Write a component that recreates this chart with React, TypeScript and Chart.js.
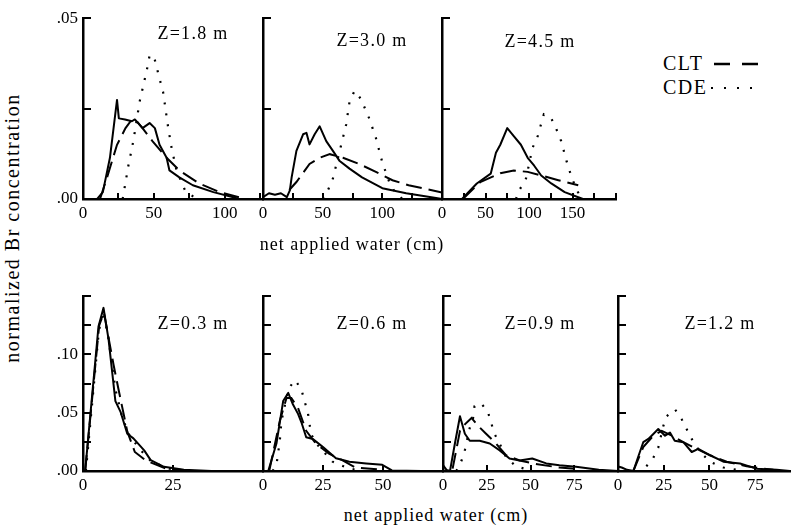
import React, { useEffect, useRef } from 'react';
import { Chart, registerables } from 'chart.js';

Chart.register(...registerables);

type Pt = [number, number];

// ---------- data (x: net applied water, cm ; y: normalized Br concentration) ----------
// Z = 1.8 m
const Z18_OBS: Pt[] = [[0, 0], [10, 0], [14, 0.0019], [19, 0.0114], [24, 0.0274], [25.3, 0.0223], [29.6, 0.022], [34.5, 0.0215], [36.6, 0.022], [42, 0.0196], [47, 0.021], [50.7, 0.0196], [54, 0.015], [59, 0.0114], [61, 0.0079], [68, 0.006], [77.5, 0.0038], [92, 0.0019], [106, 0.0005], [110, 0], [127, 0]];
const Z18_CLT: Pt[] = [[12, 0], [17, 0.006], [24, 0.015], [30, 0.0196], [34.5, 0.022], [38, 0.0215], [42, 0.0196], [49, 0.016], [59, 0.0114], [68, 0.0079], [82, 0.0043], [96.5, 0.0019], [110, 0.0005]];
const Z18_CDE: Pt[] = [[28, 0], [32, 0.0092], [35.5, 0.016], [40, 0.027], [45, 0.0356], [47, 0.0397], [50, 0.0395], [54, 0.0333], [56.5, 0.0296], [60, 0.02], [62.5, 0.0141], [66, 0.0079], [72, 0.0024], [79, 0.0003]];
// Z = 3.0 m
const Z30_OBS: Pt[] = [[0, 0.0005], [5, 0.0016], [10, 0.0012], [15, 0.0016], [20, 0.0005], [22.5, 0.0024], [24, 0.006], [28, 0.0133], [33.6, 0.0179], [36.4, 0.0183], [39, 0.0151], [43.3, 0.0179], [47.5, 0.0201], [53, 0.016], [58.6, 0.0133], [64, 0.0106], [72.5, 0.0084], [83, 0.006], [100, 0.003], [120, 0.0016], [145, 0.0003], [150, 0]];
const Z30_CLT: Pt[] = [[22, 0.0025], [28, 0.0047], [39, 0.0097], [47.5, 0.0114], [56, 0.0124], [67, 0.0114], [80.6, 0.0097], [94.6, 0.0075], [108.5, 0.0052], [122, 0.0038], [150, 0.0018]];
const Z30_CDE: Pt[] = [[50, 0], [54.4, 0.0024], [58.6, 0.0057], [65.6, 0.0151], [69.7, 0.0206], [72.5, 0.0269], [76.7, 0.0299], [82, 0.0277], [89, 0.0223], [94.6, 0.0169], [100, 0.0101], [105.8, 0.0047], [111, 0.0016], [117, 0]];
// Z = 4.5 m
const Z45_OBS: Pt[] = [[23, 0], [40, 0.0043], [56, 0.007], [62, 0.0128], [67, 0.015], [75, 0.0196], [82.5, 0.0174], [90.7, 0.015], [98.5, 0.0114], [106, 0.0092], [114, 0.0065], [125.6, 0.0043], [141, 0.0019], [156.6, 0.0005], [162, 0]];
const Z45_CLT: Pt[] = [[24, 0], [44, 0.0047], [67, 0.0071], [82.5, 0.0079], [98.5, 0.0075], [114, 0.0065], [133.7, 0.0052], [156.6, 0.0038]];
const Z45_CDE: Pt[] = [[85, 0], [88.8, 0.0024], [96.6, 0.0057], [104, 0.0141], [110, 0.0174], [117, 0.0234], [125.6, 0.0223], [131, 0.0196], [137, 0.016], [143, 0.0106], [149, 0.006], [155, 0.0024], [161, 0]];
// Z = 0.3 m
const Z03_OBS: Pt[] = [[0.6, 0], [4.3, 0.124], [5.7, 0.14], [7.1, 0.113], [9, 0.06], [10.4, 0.051], [12.3, 0.032], [14, 0.028], [17, 0.0177], [18.8, 0.0093], [22.5, 0.0036], [28, 0.001], [35.7, 0]];
const Z03_CLT: Pt[] = [[0.6, 0], [4.5, 0.125], [5.8, 0.136], [8.5, 0.091], [9.8, 0.071], [12.3, 0.034], [14.4, 0.0163], [17.3, 0.0093], [23, 0.002], [30, 0]];
const Z03_CDE: Pt[] = [[0.8, 0], [4.4, 0.12], [5.6, 0.137], [7, 0.115], [9, 0.07], [11, 0.045], [13, 0.03], [16, 0.018], [19, 0.008], [24, 0.002], [30, 0]];
// Z = 0.6 m
const Z06_OBS: Pt[] = [[0, 0], [2.2, 0], [5.6, 0.0236], [8.4, 0.06], [10.5, 0.067], [12.5, 0.057], [14.6, 0.049], [16, 0.0418], [18, 0.029], [20.8, 0.0275], [25, 0.0205], [30.4, 0.011], [36, 0.008], [43, 0.0065], [49.7, 0.0053], [53.7, 0.0005], [66, 0], [75, 0]];
const Z06_CLT: Pt[] = [[2.6, 0], [7, 0.043], [9.8, 0.0626], [11.8, 0.0626], [14.6, 0.054], [18, 0.0345], [22, 0.0236], [27.5, 0.0149], [33, 0.0093], [38.5, 0.003], [49.7, 0.001]];
const Z06_CDE: Pt[] = [[4, 0], [5.6, 0.005], [7, 0.026], [7.7, 0.043], [10.7, 0.071], [13.4, 0.078], [16, 0.07], [17.3, 0.06], [18.7, 0.05], [20, 0.032], [22, 0.024], [29, 0.008], [36, 0.002], [42, 0]];
// Z = 0.9 m
const Z09_OBS: Pt[] = [[0, 0.005], [2, 0.001], [4, 0], [6.8, 0.0236], [9.7, 0.047], [12.5, 0.032], [15.3, 0.026], [21, 0.026], [26.7, 0.0236], [32.4, 0.0177], [38, 0.0107], [43.8, 0.009], [51, 0.0107], [59, 0.0065], [66.5, 0.005], [76, 0.0037], [89, 0.001], [100, 0]];
const Z09_CLT: Pt[] = [[5.5, 0.002], [9.7, 0.0345], [12.5, 0.04], [16.3, 0.0455], [20, 0.0388], [24.6, 0.032], [30.3, 0.0236], [36, 0.0135], [43.8, 0.009], [53, 0.006], [66.5, 0.003], [78, 0.0015]];
const Z09_CDE: Pt[] = [[7.6, 0], [10.6, 0.009], [12.5, 0.018], [15.3, 0.037], [17.2, 0.0455], [18, 0.0556], [21.8, 0.058], [25.6, 0.051], [29.4, 0.032], [32.2, 0.024], [36, 0.012], [41.7, 0.004], [49, 0.001]];
// Z = 1.2 m
const Z12_OBS: Pt[] = [[0, 0.004], [2, 0.003], [5, 0.001], [8.4, 0], [11, 0.012], [13.8, 0.0247], [16.6, 0.0275], [19.3, 0.0317], [22, 0.036], [25.7, 0.0303], [28.4, 0.033], [31, 0.026], [35.7, 0.0247], [40.3, 0.0163], [43.9, 0.019], [50.3, 0.0135], [57.6, 0.008], [66.7, 0.0065], [75.6, 0.002], [86.7, 0.001], [94, 0]];
const Z12_CLT: Pt[] = [[8.4, 0], [13.8, 0.0205], [19.3, 0.0303], [23.9, 0.0345], [29.4, 0.0303], [35.7, 0.0247], [43, 0.019], [50.3, 0.0135], [59.4, 0.008], [70.3, 0.004], [84.9, 0.001]];
const Z12_CDE: Pt[] = [[15.5, 0.004], [19.3, 0.0113], [22, 0.02], [24.8, 0.0388], [26.6, 0.047], [31.2, 0.0528], [34.8, 0.0444], [37.5, 0.036], [40.3, 0.0275], [44.8, 0.0163], [50.3, 0.008], [57.6, 0.003], [65, 0.001]];

// axis limits / tick labels
const TOP_X_MAX = [127, 150, 200];
const BOT_X_MAX = [50, 75, 100, 94];
const TOP_Y_MAX = 0.05;
const BOT_Y_MAX = 0.15;
const TOP_Y_LABELS = [0, 0.05];
const BOT_Y_LABELS = [0, 0.05, 0.1];
const TOP_X_LABEL_STEP = 50;
const BOT_X_LABEL_STEP = 25;
const PANEL_NAMES = ['Z=1.8 m', 'Z=3.0 m', 'Z=4.5 m', 'Z=0.3 m', 'Z=0.6 m', 'Z=0.9 m', 'Z=1.2 m'];
const SERIES_NAMES = ['CLT', 'CDE'];
const X_TITLE = 'net applied water (cm)';
const Y_TITLE = 'normalized Br concentration';

const FONT = "'Liberation Serif', 'Times New Roman', Times, serif";

// ---------- layout ----------
const L = 48, R = 14, T = 12, B = 30;

interface Panel {
  left: number; top: number; w: number; h: number;
  xMax: number; xStep: number; yMax: number; yLabels: number[] | null;
  obs: Pt[]; clt: Pt[]; cde: Pt[];
  name: string; nx: number; ny: number;
}

const PANELS: Panel[] = [
  { left: 83, top: 15, w: 180, h: 184, xMax: TOP_X_MAX[0], xStep: TOP_X_LABEL_STEP, yMax: TOP_Y_MAX, yLabels: TOP_Y_LABELS, obs: Z18_OBS, clt: Z18_CLT, cde: Z18_CDE, name: PANEL_NAMES[0], nx: 193, ny: 33 },
  { left: 263, top: 15, w: 179, h: 184, xMax: TOP_X_MAX[1], xStep: TOP_X_LABEL_STEP, yMax: TOP_Y_MAX, yLabels: null, obs: Z30_OBS, clt: Z30_CLT, cde: Z30_CDE, name: PANEL_NAMES[1], nx: 372, ny: 40 },
  { left: 442, top: 15, w: 174, h: 184, xMax: TOP_X_MAX[2], xStep: TOP_X_LABEL_STEP, yMax: TOP_Y_MAX, yLabels: null, obs: Z45_OBS, clt: Z45_CLT, cde: Z45_CDE, name: PANEL_NAMES[2], nx: 540, ny: 41 },
  { left: 83, top: 293, w: 180, h: 178, xMax: BOT_X_MAX[0], xStep: BOT_X_LABEL_STEP, yMax: BOT_Y_MAX, yLabels: BOT_Y_LABELS, obs: Z03_OBS, clt: Z03_CLT, cde: Z03_CDE, name: PANEL_NAMES[3], nx: 193, ny: 323 },
  { left: 263, top: 293, w: 180, h: 178, xMax: BOT_X_MAX[1], xStep: BOT_X_LABEL_STEP, yMax: BOT_Y_MAX, yLabels: null, obs: Z06_OBS, clt: Z06_CLT, cde: Z06_CDE, name: PANEL_NAMES[4], nx: 372, ny: 323 },
  { left: 443, top: 293, w: 175, h: 178, xMax: BOT_X_MAX[2], xStep: BOT_X_LABEL_STEP, yMax: BOT_Y_MAX, yLabels: null, obs: Z09_OBS, clt: Z09_CLT, cde: Z09_CDE, name: PANEL_NAMES[5], nx: 540, ny: 323 },
  { left: 618, top: 293, w: 172, h: 178, xMax: BOT_X_MAX[3], xStep: BOT_X_LABEL_STEP, yMax: BOT_Y_MAX, yLabels: null, obs: Z12_OBS, clt: Z12_CLT, cde: Z12_CDE, name: PANEL_NAMES[6], nx: 720, ny: 323 },
];

const DASH = [16, 7];
const DOT = [2, 9];

const near = (a: number, b: number) => Math.abs(a - b) < 1e-9;

// inward tick marks and x tick labels, placed through the chart's own scales
const innerTicks = {
  id: 'innerTicks',
  afterDraw(chart: any, _args: any, opts: any) {
    const { ctx, chartArea: a, scales } = chart;
    const xs = scales.x, ys = scales.y;
    ctx.save();
    ctx.globalCompositeOperation = 'source-over';
    ctx.strokeStyle = '#000';
    ctx.lineWidth = 2;
    ctx.beginPath();
    xs.ticks.forEach((t: any) => {
      const p = Math.round(xs.getPixelForValue(t.value));
      ctx.moveTo(p, a.bottom);
      ctx.lineTo(p, a.bottom - 6);
    });
    ys.ticks.forEach((t: any) => {
      const p = Math.round(ys.getPixelForValue(t.value));
      ctx.moveTo(a.left, p);
      ctx.lineTo(a.left + 8, p);
    });
    ctx.stroke();
    // x tick labels
    ctx.fillStyle = '#000';
    ctx.font = `17px ${FONT}`;
    ctx.textAlign = 'center';
    ctx.textBaseline = 'top';
    const step = opts.xStep as number;
    const max = xs.max as number;
    for (let v = 0; v < max - 1e-9; v += step) {
      const px = xs.getPixelForValue(v);
      ctx.fillText(String(v), px, a.bottom + 6);
    }
    ctx.restore();
  },
};

function makeConfig(p: Panel): any {
  const toXY = (arr: Pt[]) => arr.map(([x, y]) => ({ x, y }));
  const base = { showLine: true, pointRadius: 0, borderColor: '#000', fill: false, tension: 0 };
  return {
    type: 'scatter',
    data: {
      datasets: [
        { ...base, label: 'observed', data: toXY(p.obs), borderWidth: 2, borderJoinStyle: 'round' },
        { ...base, label: SERIES_NAMES[0], data: toXY(p.clt), borderWidth: 2, borderDash: DASH },
        { ...base, label: SERIES_NAMES[1], data: toXY(p.cde), borderWidth: 2.2, borderDash: DOT },
      ],
    },
    options: {
      responsive: false,
      maintainAspectRatio: false,
      animation: false,
      events: [],
      layout: { padding: { top: T, right: R, left: 0, bottom: 0 } },
      plugins: {
        legend: { display: false }, tooltip: { enabled: false }, title: { display: false },
        innerTicks: { xStep: p.xStep },
      },
      scales: {
        x: {
          type: 'linear', position: 'bottom', min: 0, max: p.xMax,
          grid: { display: false, drawTicks: false },
          border: { display: true, color: '#000', width: 2.5 },
          ticks: {
            display: false, stepSize: 25, includeBounds: false, autoSkip: false, maxRotation: 0, minRotation: 0,
          },
          afterFit: (s: any) => { s.height = B; },
        },
        y: {
          type: 'linear', position: 'left', min: 0, max: p.yMax,
          grid: { display: false, drawTicks: false },
          border: { display: true, color: '#000', width: 2.5 },
          ticks: {
            stepSize: 0.025, includeBounds: false, autoSkip: false,
            padding: 5, color: '#000', font: { family: FONT, size: 17 },
            callback: (v: number) => (p.yLabels && p.yLabels.some((l) => near(l, v)) ? v.toFixed(2).replace(/^0/, '') : ''),
          },
          afterFit: (s: any) => { s.width = L; },
        },
      },
    },
    plugins: [innerTicks],
  };
}

function PanelChart({ p, z }: { p: Panel; z: number }) {
  const ref = useRef<HTMLCanvasElement | null>(null);
  const W = L + p.w + R;
  const H = T + p.h + B;
  useEffect(() => {
    if (!ref.current) return;
    const chart = new Chart(ref.current, makeConfig(p));
    return () => chart.destroy();
  }, [p]);
  return (
    <canvas
      ref={ref}
      width={W}
      height={H}
      style={{ position: 'absolute', left: p.left - L, top: p.top - T, width: W, height: H, zIndex: z, background: 'transparent' }}
    />
  );
}

function Txt(props: { x: number; y: number; size: number; ls?: number; rotate?: boolean; align?: 'center' | 'left'; children: React.ReactNode }) {
  const { x, y, size, ls = 0, rotate, align = 'center', children } = props;
  const tx = align === 'center' ? '-50%' : '0';
  return (
    <div
      style={{
        position: 'absolute', left: x, top: y, zIndex: 20,
        transform: `translate(${tx}, -50%)${rotate ? ' rotate(-90deg)' : ''}`,
        transformOrigin: align === 'center' ? '50% 50%' : '0 50%',
        whiteSpace: 'nowrap', fontFamily: FONT, fontSize: size, lineHeight: 1,
        letterSpacing: ls, color: '#000',
      }}
    >
      {children}
    </div>
  );
}

export default function App() {
  // later panels of a row are rendered first so that each panel's left-edge labels stay visible
  const order = [2, 1, 0, 6, 5, 4, 3];
  return (
    <div style={{ position: 'absolute', left: 0, top: 0, width: 794, height: 528, background: '#fff', overflow: 'hidden' }}>
      {order.map((i, k) => (
        <PanelChart key={i} p={PANELS[i]} z={k + 1} />
      ))}
      {PANELS.map((p, i) => (
        <Txt key={'n' + i} x={p.nx} y={p.ny} size={18} ls={1.3}>{p.name}</Txt>
      ))}
      <Txt x={352} y={244} size={18} ls={1}>{X_TITLE}</Txt>
      <Txt x={436} y={515} size={18} ls={1}>{X_TITLE}</Txt>
      <Txt x={12} y={228} size={20} ls={1.5} rotate>{Y_TITLE}</Txt>
      {/* legend */}
      <Txt x={663} y={63} size={20} ls={1.5} align="left">{SERIES_NAMES[0]}</Txt>
      <Txt x={663} y={87} size={20} ls={1.5} align="left">{SERIES_NAMES[1]}</Txt>
      <svg style={{ position: 'absolute', left: 0, top: 0, zIndex: 21 }} width={794} height={528}>
        <line x1={714} y1={64} x2={758} y2={64} stroke="#000" strokeWidth={2.5} strokeDasharray="16 12" />
        <line x1={711} y1={88} x2={754} y2={88} stroke="#000" strokeWidth={2.2} strokeDasharray="2 11" />
      </svg>
    </div>
  );
}
